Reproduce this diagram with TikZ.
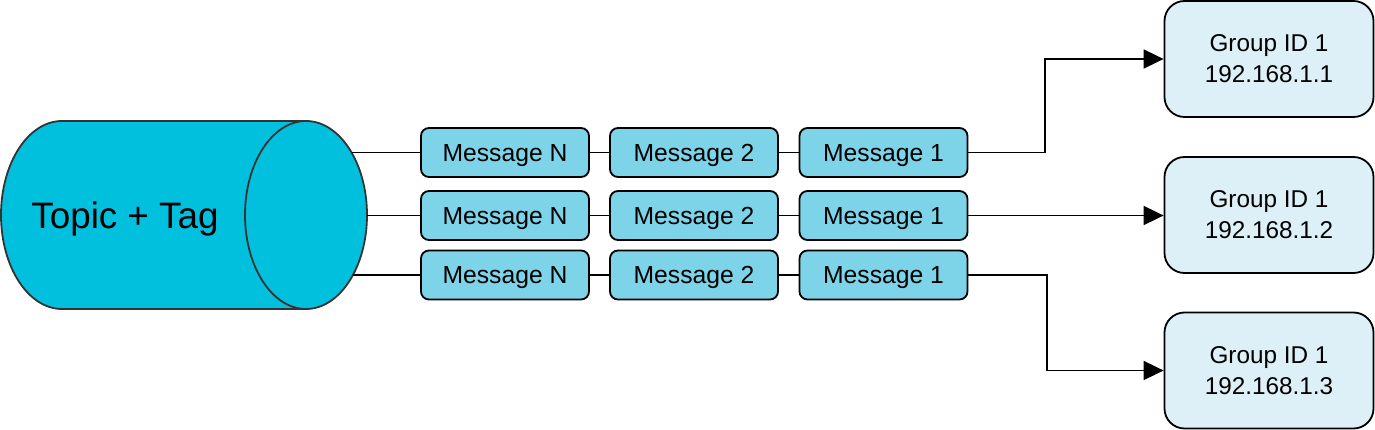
\documentclass[tikz,border=0pt]{standalone}
\usepackage{fontspec}
\setmainfont{Liberation Sans}
\usetikzlibrary{arrows.meta}
\definecolor{cylfill}{RGB}{0,192,222}
\definecolor{msgfill}{RGB}{125,212,232}
\definecolor{grpfill}{RGB}{222,240,247}
\definecolor{cylline}{RGB}{51,51,51}
\tikzset{
  msgbox/.style={draw=black, line width=1.8pt, fill=msgfill, rounded corners=8pt,
    minimum width=168pt, minimum height=49pt, inner sep=0pt,
    text height=17.7pt, text depth=0pt, font=\fontsize{24.7}{29}\selectfont},
  grpbox/.style={draw=black, line width=1.8pt, fill=grpfill, rounded corners=20pt,
    minimum width=209pt, minimum height=116pt, inner sep=0pt, align=center,
    font=\fontsize{24.3}{31}\selectfont},
  link/.style={draw=black, line width=1.8pt},
  arrowlink/.style={link, -{Triangle[length=20pt,width=19pt]}}
}
\begin{document}
\begin{tikzpicture}[x=1pt,y=1pt]
\useasboundingbox (0,0) rectangle (1375,-430);
% cylinder
\draw[cylline, line width=1.8pt, fill=cylfill]
  (62,-121) -- (306,-121) arc[start angle=90,end angle=-90,x radius=61,y radius=94]
  -- (62,-309) arc[start angle=270,end angle=90,x radius=61,y radius=94] -- cycle;
\draw[cylline, line width=1.8pt] (306,-121) arc[start angle=90,end angle=270,x radius=61,y radius=94];
\node[font=\fontsize{36.8}{40}\selectfont, inner sep=0pt, text height=26.4pt, text depth=0pt] (topic) at (125,-215) {Topic + Tag};
\coordinate (c1) at (352,-152.5);
\coordinate (c2) at (367,-215.5);
\coordinate (c3) at (353,-275);
% messages
\foreach \r/\y in {1/-152.5, 2/-215.5, 3/-275} {
  \node[msgbox] (mN\r) at (505,\y) {Message N};
  \node[msgbox] (m2\r) at (694,\y) {Message 2};
  \node[msgbox] (m1\r) at (883.5,\y) {Message 1};
  \draw[link] (c\r) -- (mN\r.west);
  \draw[link] (mN\r.east) -- (m2\r.west);
  \draw[link] (m2\r.east) -- (m1\r.west);
}
% groups
\node[grpbox] (g1) at (1269,-59) {Group ID 1\\192.168.1.1};
\node[grpbox] (g2) at (1269,-215) {Group ID 1\\192.168.1.2};
\node[grpbox] (g3) at (1269,-370.5) {Group ID 1\\192.168.1.3};
\coordinate (b1) at (1045,-152.5);
\coordinate (b3) at (1047,-275);
\draw[arrowlink] (m11.east) -- (b1) |- (g1.west);
\draw[arrowlink] (m12.east) -- (m12.east -| g2.west);
\draw[arrowlink] (m13.east) -- (b3) |- (g3.west);
\end{tikzpicture}
\end{document}
